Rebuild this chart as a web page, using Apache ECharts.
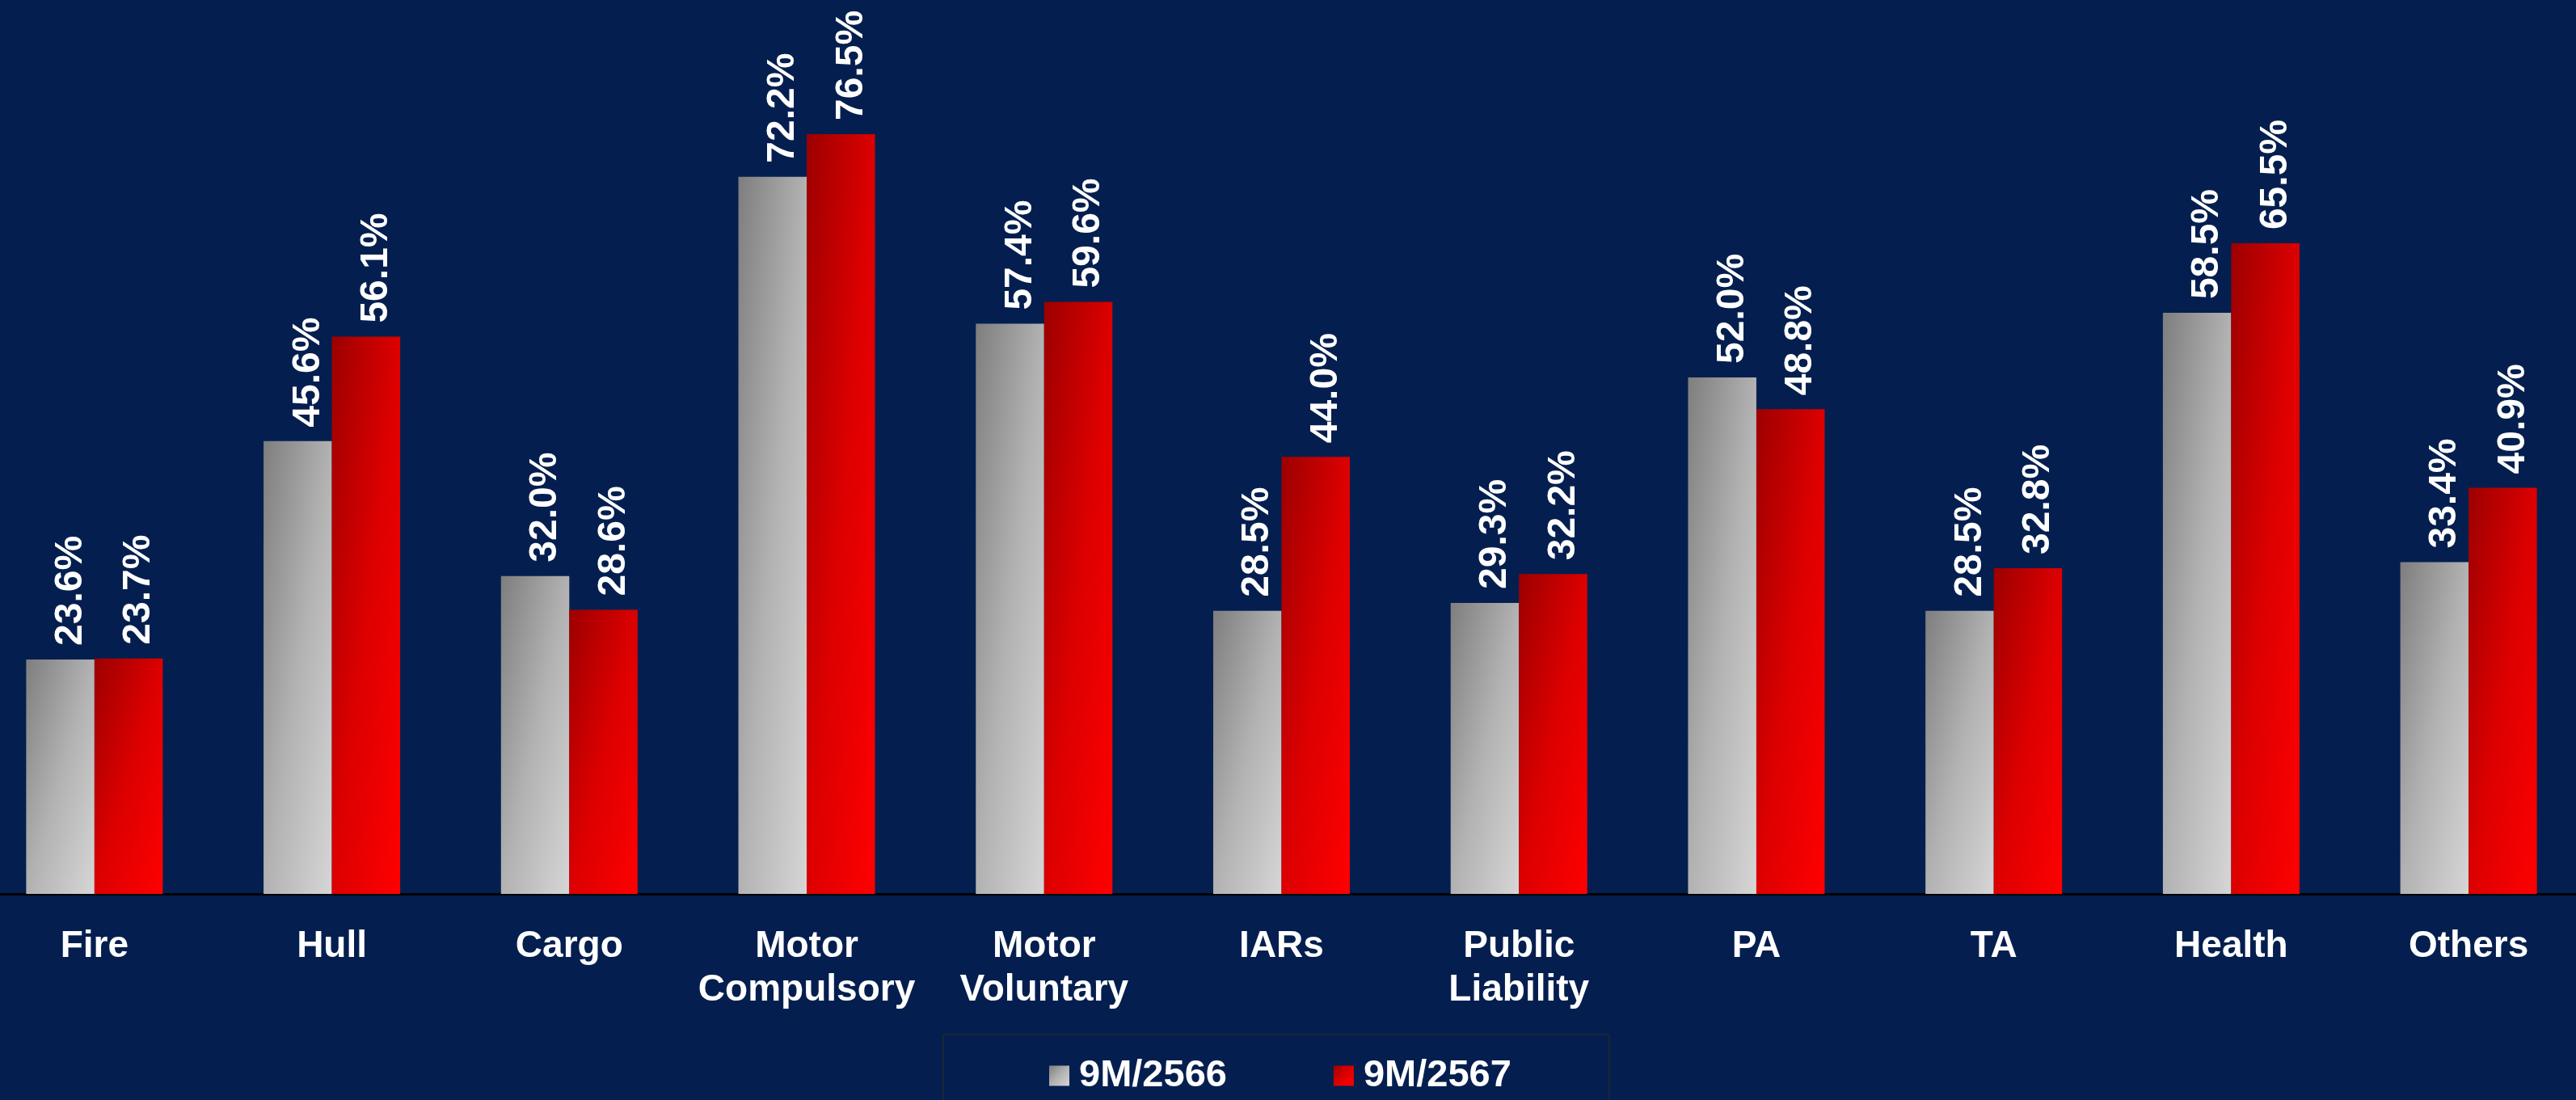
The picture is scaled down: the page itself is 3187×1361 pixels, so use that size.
<!DOCTYPE html>
<html>
<head>
<meta charset="utf-8">
<script src="https://cdn.jsdelivr.net/npm/echarts@6/dist/echarts.min.js"></script>
<style>
html,body{margin:0;padding:0;background:#041F4F;overflow:hidden;width:3187px;height:1361px;}
#chart{position:absolute;left:-30px;top:0;width:3231px;height:1361px;}
</style>
</head>
<body>
<div id="chart"></div>
<script>
const categories = ['Fire','Hull','Cargo','Motor\nCompulsory','Motor\nVoluntary','IARs','Public\nLiability','PA','TA','Health','Others'];
const seriesNames = ['9M/2566','9M/2567'];
const values2566 = [23.6,45.6,32.0,72.2,57.4,28.5,29.3,52.0,28.5,58.5,33.4];
const values2567 = [23.7,56.1,28.6,76.5,59.6,44.0,32.2,48.8,32.8,65.5,40.9];

const grayStops = [{offset:0,color:'#7e7e7e'},{offset:0.5,color:'#b2b2b2'},{offset:1,color:'#d6d6d6'}];
const redStops = [{offset:0,color:'#9c0000'},{offset:0.5,color:'#dc0000'},{offset:1,color:'#ff0000'}];

const Y_MAX = 90, PLOT_H = 1106, BAR_W = 84.5;
// diagonal gradient in shape space (corner to corner, isolines along the other diagonal)
function shapeGrad(w, h, stops){
  const d = w*w + h*h;
  return new echarts.graphic.LinearGradient(0, 0, 2*h*h/d, 2*w*w/d, stops);
}
function items(vals, stops){
  return vals.map(v => ({value:v, itemStyle:{color:shapeGrad(BAR_W, v*PLOT_H/Y_MAX, stops)}}));
}

const labelCfg = {
  show:true, position:'top', rotate:90, align:'left', verticalAlign:'middle',
  distance:17, offset:[0,13], color:'#ffffff', fontFamily:'Liberation Sans', fontWeight:'bold', fontSize:48,
  formatter: p => p.value.toFixed(1) + '%'
};

const chart = echarts.init(document.getElementById('chart'));
chart.setOption({
  backgroundColor:'#041F4F',
  animation:false,
  grid:{left:0, right:0, top:0, bottom:1361-PLOT_H, containLabel:false},
  legend:{
    data:seriesNames, left:1197, top:1280,
    padding:[26,121,40,131], borderColor:'#1c2638', borderWidth:2,
    itemWidth:25, itemHeight:25, itemGap:132, icon:'rect',
    textStyle:{color:'#ffffff', fontFamily:'Liberation Sans', fontWeight:'bold', fontSize:47, lineHeight:50, padding:[0,0,0,7]}
  },
  xAxis:{
    type:'category', data:categories,
    axisLine:{show:true, lineStyle:{color:'#000000', width:3}},
    axisTick:{show:false},
    axisLabel:{color:'#ffffff', fontFamily:'Liberation Sans', fontWeight:'bold', fontSize:46, lineHeight:54, margin:38, interval:0}
  },
  yAxis:{type:'value', min:0, max:Y_MAX, show:false, splitLine:{show:false}},
  series:[
    {name:seriesNames[0], type:'bar', data:items(values2566, grayStops), barWidth:BAR_W, barGap:'0%',
     itemStyle:{color:shapeGrad(25,25,grayStops)}, label:labelCfg},
    {name:seriesNames[1], type:'bar', data:items(values2567, redStops), barWidth:BAR_W, barGap:'0%',
     itemStyle:{color:shapeGrad(25,25,redStops)}, label:labelCfg}
  ]
});
</script>
</body>
</html>
